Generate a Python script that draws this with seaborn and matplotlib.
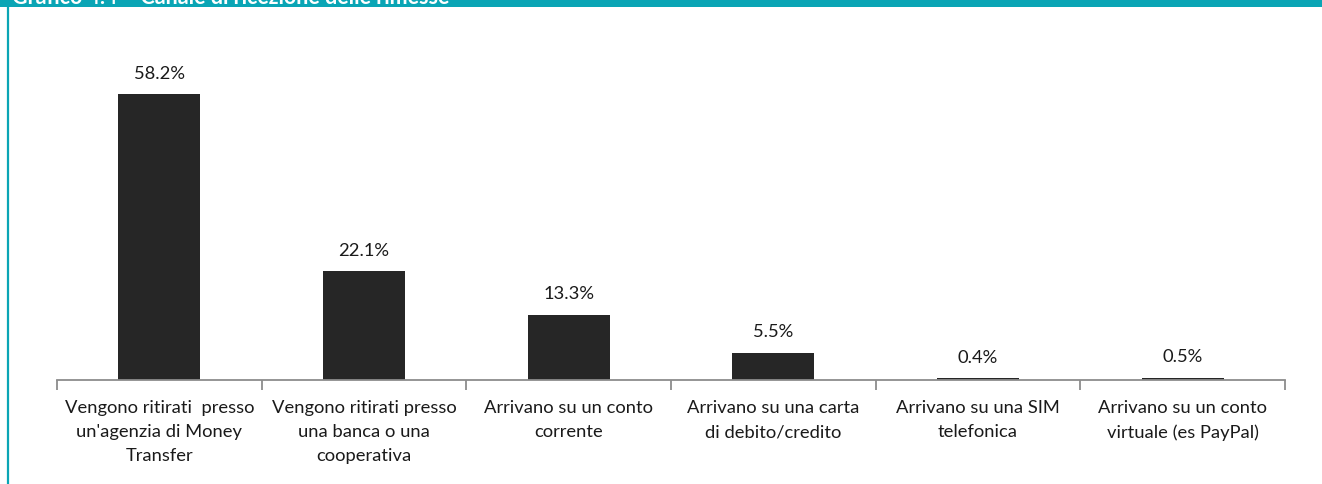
import matplotlib
matplotlib.use("Agg")
import matplotlib.pyplot as plt
import seaborn as sns
import pandas as pd
from matplotlib.patches import Rectangle
from matplotlib.lines import Line2D
from matplotlib.ticker import FixedLocator

categories = [
    "Vengono ritirati  presso\nun'agenzia di Money\nTransfer",
    "Vengono ritirati presso\nuna banca o una\ncooperativa",
    "Arrivano su un conto\ncorrente",
    "Arrivano su una carta\ndi debito/credito",
    "Arrivano su una SIM\ntelefonica",
    "Arrivano su un conto\nvirtuale (es PayPal)",
]
values = [58.2, 22.1, 13.3, 5.5, 0.4, 0.5]
value_labels = ["58.2%", "22.1%", "13.3%", "5.5%", "0.4%", "0.5%"]
title = "Grafico 4.4 – Canale di ricezione delle rimesse"

sns.set_theme(style="white")
plt.rcParams['font.family'] = ['Lato', 'DejaVu Sans']

W, H = 1322, 484
fig = plt.figure(figsize=(W / 100, H / 100), dpi=100)
ax = fig.add_axes([57 / W, 104 / H, (1285 - 57) / W, (380 - 40) / H])

df = pd.DataFrame({"cat": categories, "val": values})
sns.barplot(data=df, x="cat", y="val", color="#262626", width=0.4,
            saturation=1, ax=ax, edgecolor="#262626", linewidth=0)

ax.set_xlim(-0.5, len(categories) - 0.5)
ax.set_ylim(0, 69.2)
ax.set_xlabel("")
ax.set_ylabel("")
ax.set_yticks([])
for s in ["top", "right", "left"]:
    ax.spines[s].set_visible(False)
ax.spines["bottom"].set_color("#8c8c8c")
ax.spines["bottom"].set_linewidth(1.3)

ax.tick_params(axis="x", which="major", length=0, pad=14.5, labelsize=13.2,
               labelcolor="#1a1a1a")
ax.xaxis.set_minor_locator(FixedLocator([i - 0.5 for i in range(len(categories) + 1)]))
ax.tick_params(axis="x", which="minor", length=7, width=1.3, color="#8c8c8c",
               direction="out", bottom=True)
for lbl in ax.get_xticklabels():
    lbl.set_linespacing(1.62)
    lbl.set_ha("center")

for i, (v, t) in enumerate(zip(values, value_labels)):
    ax.annotate(t, (i, v), xytext=(0, 9), textcoords="offset points",
                ha="center", va="bottom", fontsize=13.2, color="#1a1a1a")

# header band and frame
teal = "#0aa5b5"
fig.patches.append(Rectangle((0, 1 - 7 / H), 1, 7 / H, transform=fig.transFigure,
                             facecolor=teal, edgecolor="none", zorder=5))
fig.lines.append(Line2D([8 / W, 8 / W], [0, 1], transform=fig.transFigure,
                        color=teal, linewidth=1.6, zorder=5))
fig.text(12 / W, 1 - 3.5 / H, title, color="white", fontsize=15.5, fontweight="bold",
         ha="left", va="baseline", zorder=6)

fig.savefig("out.png", dpi=100)
